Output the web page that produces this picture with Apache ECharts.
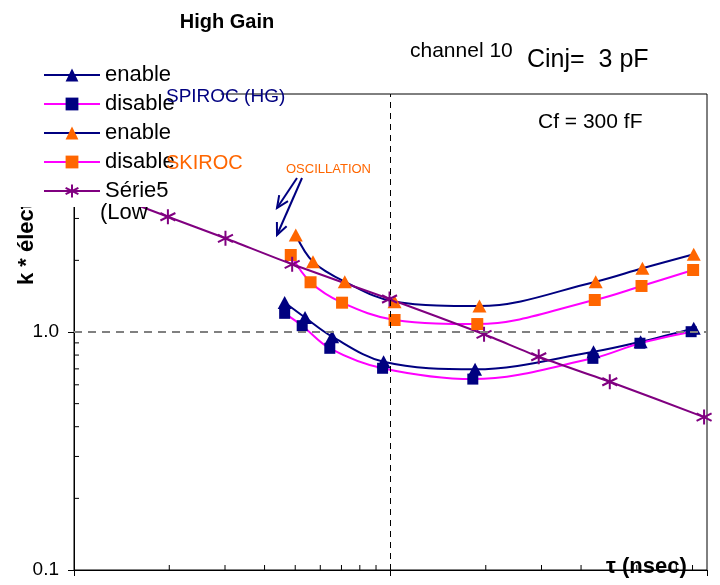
<!DOCTYPE html>
<html><head><meta charset="utf-8">
<script src="https://cdn.jsdelivr.net/npm/echarts@6/dist/echarts.min.js"></script>
<style>html,body{margin:0;padding:0;background:#fff}#c{width:720px;height:585px}</style>
</head><body><div id="c"></div>
<script>
const FONT = 'Liberation Sans, Arial, Helvetica, sans-serif';

// ---- data ----
const seriesNames = ['enable', 'disable', 'enable ', 'disable ', 'Série5'];
const spirocEnableX  = [46.3, 53.7, 65.4, 95.1, 185, 438, 617, 908];
const spirocEnableY  = [1.33, 1.15, 0.956, 0.750, 0.697, 0.826, 0.910, 1.036];
const spirocDisableX = [46.3, 52.6, 64.3, 94.4, 182, 436, 614, 891];
const spirocDisableY = [1.198, 1.063, 0.854, 0.704, 0.634, 0.775, 0.897, 1.003];
const skirocEnableX  = [50.2, 56.9, 71.7, 103, 191, 445, 625, 908];
const skirocEnableY  = [2.557, 1.974, 1.627, 1.341, 1.286, 1.627, 1.852, 2.121];
const skirocDisableX = [48.4, 55.9, 70.3, 103, 188, 442, 621, 904];
const skirocDisableY = [2.106, 1.618, 1.328, 1.123, 1.080, 1.363, 1.561, 1.822];
const serie5X = [10, 19.8, 30.1, 48.9, 99.3, 197.5, 294, 493, 979];
const serie5Y = [4.3, 3.05, 2.476, 1.925, 1.376, 0.978, 0.787, 0.618, 0.439];
const xMinorTicks = [20, 30, 40, 50, 60, 70, 80, 90, 200, 300, 400, 500, 600, 700, 800, 900];
const yMinorTicks = [0.2, 0.3, 0.4, 0.5, 0.6, 0.7, 0.8, 0.9, 2, 3, 4, 5, 6, 7, 8, 9];
const xRange = [10, 1000];
const yRange = [0.1, 10];
const refX = 100, refY = 1;

const zip = (xs, ys) => xs.map((x, i) => [x, ys[i]]);

const NAVY = '#000080', MAGENTA = '#FF00FF', ORANGE = '#FF6600', PURPLE = '#800080';
const ASTER = 'path://M5,0L5,10M0.7,2.5L9.3,7.5M9.3,2.5L0.7,7.5';

function lineSeries(name, data, lineColor, symbol, symColor, size) {
  return {
    type: 'line', name, data, smooth: 0.35,
    symbol, symbolSize: size, showSymbol: true,
    lineStyle: { color: lineColor, width: 2 },
    itemStyle: { color: symColor, borderWidth: 0 },
    emphasis: { disabled: true }, silent: true, animation: false
  };
}

const chart = echarts.init(document.getElementById('c'), null, { renderer: 'canvas' });

const s1 = lineSeries(seriesNames[0], zip(spirocEnableX, spirocEnableY), NAVY, 'triangle', NAVY, [14, 13]);
s1.markLine = {
  silent: true, symbol: 'none', animation: false, label: { show: false },
  data: [
    { yAxis: refY, lineStyle: { color: '#808080', type: [8, 6], width: 2 } },
    { xAxis: refX, lineStyle: { color: '#000', type: [6, 5], width: 1 } }
  ]
};
const s5 = lineSeries(seriesNames[4], zip(serie5X, serie5Y), PURPLE, ASTER, PURPLE, 15);
s5.itemStyle = { color: PURPLE, borderColor: PURPLE, borderWidth: 2 };
s5.smooth = 0.2;

const option = {
  animation: false,
  backgroundColor: '#fff',
  grid: { left: 74, right: 13, top: 94, bottom: 15, show: true, borderColor: '#000', borderWidth: 1, backgroundColor: 'transparent' },
  xAxis: {
    type: 'log', logBase: 10, min: xRange[0], max: xRange[1],
    axisLine: { show: true, lineStyle: { color: '#000', width: 1 } },
    axisTick: { show: true, inside: false, length: 6, lineStyle: { color: '#000' } },
    axisLabel: { show: false },
    splitLine: { show: false }
  },
  yAxis: {
    type: 'log', logBase: 10, min: yRange[0], max: yRange[1],
    axisLine: { show: true, lineStyle: { color: '#000', width: 1 } },
    axisTick: { show: true, inside: false, length: 6, lineStyle: { color: '#000' } },
    axisLabel: { show: true, fontFamily: FONT, fontSize: 19, color: '#000', margin: 15,
      formatter: v => Number(v).toFixed(1) },
    splitLine: { show: false }
  },
  legend: {
    data: seriesNames, orient: 'vertical', left: 15, top: 58,
    padding: [6, 40, 5, 28], itemWidth: 56, itemHeight: 16, itemGap: 7,
    backgroundColor: '#fff', borderWidth: 0, selectedMode: false,
    textStyle: { fontFamily: FONT, fontSize: 22, color: '#000', lineHeight: 21 }
  },
  series: [
    s1,
    lineSeries(seriesNames[1], zip(spirocDisableX, spirocDisableY), MAGENTA, 'rect', NAVY, 11),
    lineSeries(seriesNames[2], zip(skirocEnableX, skirocEnableY), NAVY, 'triangle', ORANGE, [14, 13]),
    lineSeries(seriesNames[3], zip(skirocDisableX, skirocDisableY), MAGENTA, 'rect', ORANGE, 12),
    s5,
    {
      type: 'custom', name: 'xminor', silent: true, animation: false, clip: false,
      data: xMinorTicks.map(v => [v, yRange[0]]),
      renderItem: (params, api) => {
        const p = api.coord([api.value(0), api.value(1)]);
        return { type: 'line', shape: { x1: p[0], y1: p[1], x2: p[0], y2: p[1] - 5 },
                 style: { stroke: '#000', lineWidth: 1 } };
      }
    },
    {
      type: 'custom', name: 'yminor', silent: true, animation: false, clip: false,
      data: yMinorTicks.map(v => [xRange[0], v]),
      renderItem: (params, api) => {
        const p = api.coord([api.value(0), api.value(1)]);
        return { type: 'line', shape: { x1: p[0], y1: p[1], x2: p[0] + 5, y2: p[1] },
                 style: { stroke: '#000', lineWidth: 1 } };
      }
    }
  ]
};

function txt(text, x, y, size, color, opts) {
  opts = opts || {};
  return {
    type: 'text', x, y, z: opts.z || 10, rotation: opts.rotation || 0, silent: true,
    style: { text, fontFamily: FONT, fontSize: size, fontWeight: opts.bold ? 'bold' : 'normal',
      fill: color, align: opts.align || 'left', verticalAlign: 'middle',
      textAlign: opts.align || 'left', textVerticalAlign: 'middle' }
  };
}
function arrow(x1, y1, x2, y2) {
  const ang = Math.atan2(y1 - y2, x1 - x2), L = 13, a = 0.42;
  return [
    { type: 'polyline', z: 10, silent: true, shape: { points: [[x1, y1], [x2, y2]] },
      style: { stroke: NAVY, lineWidth: 2, fill: null } },
    { type: 'polyline', z: 10, silent: true,
      shape: { points: [[x2 + L * Math.cos(ang + a), y2 + L * Math.sin(ang + a)], [x2, y2],
                        [x2 + L * Math.cos(ang - a), y2 + L * Math.sin(ang - a)]] },
      style: { stroke: NAVY, lineWidth: 2, fill: null } }
  ];
}

option.graphic = [
  txt('High Gain', 227, 22, 20, '#000', { bold: true, align: 'center' }),
  txt('channel 10', 410, 51, 21, '#000'),
  txt('Cinj=  3 pF', 527, 60, 25, '#000'),
  txt('Cf = 300 fF', 538, 122, 21, '#000'),
  txt('SPIROC (HG)', 166, 97, 19, NAVY),
  txt('SKIROC', 166, 163, 20, ORANGE),
  txt('OSCILLATION', 286, 169, 13, ORANGE),
  txt('(Low', 100, 213, 22, '#000'),
  txt('τ (nsec)', 606, 567, 22, '#000', { bold: true }),
  txt('k * électrons', 27, 285, 22, '#000', { bold: true, rotation: Math.PI / 2, z: 1 }),
  ...arrow(297, 178, 277, 208),
  ...arrow(302, 178, 277, 235)
];

chart.setOption(option);
</script>
</body></html>
